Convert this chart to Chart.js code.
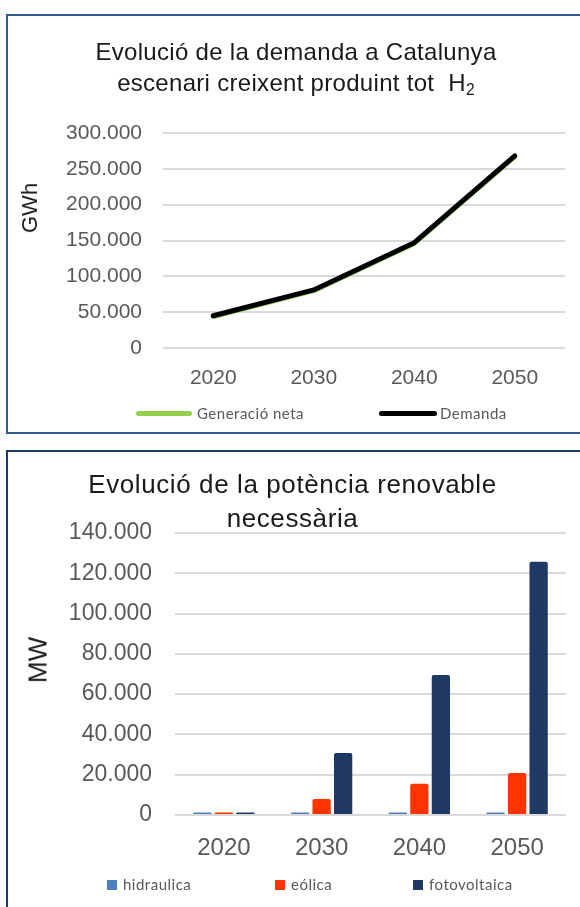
<!DOCTYPE html>
<html>
<head>
<meta charset="utf-8">
<script src="https://cdn.jsdelivr.net/npm/chart.js@4.4.1/dist/chart.umd.min.js"></script>
<style>
  body { margin: 0; background: #fff; width: 580px; height: 907px; position: relative; overflow: hidden; font-family: "Liberation Sans", Arial, sans-serif; }
  .caixa { position: absolute; left: 6px; width: 620px; box-sizing: border-box; }
  #caixa1 { top: 14px; height: 420px; border: 2px solid #2e5d8e; }
  #caixa2 { top: 450px; height: 500px; border: 2px solid #1f3a68; }
  canvas { position: absolute; left: 0; }
  .titol { position: absolute; left: 0; text-align: center; color: #1a1a1a; white-space: nowrap; }
  #titol1 { top: 36px; width: 592px; font-size: 24px; line-height: 31px; letter-spacing: 0.3px; }
  #titol1 sub { font-size: 65%; line-height: 0; vertical-align: -4px; }
  #titol2 { top: 467px; width: 585px; font-size: 26px; line-height: 34px; letter-spacing: 0.6px; }
  .eix { position: absolute; color: #1a1a1a; transform: translate(-50%, -50%) rotate(-90deg); white-space: nowrap; }
  .llegenda { position: absolute; font-family: Lato, "Open Sans", sans-serif; font-size: 15px; color: #595959; letter-spacing: 0.5px; line-height: 18px; white-space: nowrap; }
  .linia { position: absolute; height: 5px; border-radius: 3px; }
  .quadre { position: absolute; width: 10px; height: 10px; }
</style>
</head>
<body>
<div class="caixa" id="caixa1"></div>
<div class="caixa" id="caixa2"></div>

<canvas id="grafDemanda" width="580" height="440" style="top:0"></canvas>
<canvas id="grafPotencia" width="580" height="467" style="top:440px"></canvas>

<div class="titol" id="titol1">Evolució de la demanda a Catalunya<br>escenari creixent produint tot&nbsp; H<sub>2</sub></div>
<div class="titol" id="titol2">Evolució de la potència renovable<br>necessària</div>

<div class="eix" style="left:30px; top:208px; font-size:22px;">GWh</div>
<div class="eix" style="left:38px; top:660px; font-size:26px;">MW</div>

<div id="llegenda1"></div>
<div id="llegenda2"></div>

<script>
// ---------------- DADES ----------------
const anys = ["2020", "2030", "2040", "2050"];

const generacioNeta = [44000, 80000, 146000, 267000];
const demanda = [45000, 81000, 147000, 268000];

const hidraulica = [1300, 1300, 1300, 1300];
const eolica = [1300, 8000, 15500, 20800];
const fotovoltaica = [1200, 30800, 69500, 125700];

const ticksGWh = [0, 300000, 50000];   // min, max, pas
const ticksMW = [0, 140000, 20000];

// ---------------- AJUDES ----------------
function punts(v) {
  return String(v).replace(/\B(?=(\d{3})+(?!\d))/g, ".");
}

function fixarAmple(w) {
  return scale => { scale.width = w; };
}

function fixarAlt(h) {
  return scale => { scale.height = h; };
}

// ---------------- GRÀFIC 1 ----------------
new Chart(document.getElementById("grafDemanda"), {
  type: "line",
  data: {
    labels: anys,
    datasets: [
      { label: "Generació neta", data: generacioNeta, borderColor: "#92d050", borderWidth: 5, order: 2,
        pointRadius: 0, borderCapStyle: "round", borderJoinStyle: "round", tension: 0 },
      { label: "Demanda", data: demanda, borderColor: "#000000", borderWidth: 5, order: 1,
        pointRadius: 0, borderCapStyle: "round", borderJoinStyle: "round", tension: 0 }
    ]
  },
  options: {
    responsive: false,
    animation: false,
    layout: { padding: { top: 133, right: 15, left: 0, bottom: 42 } },
    plugins: { legend: { display: false }, tooltip: { enabled: false } },
    scales: {
      x: {
        offset: true,
        grid: { display: false },
        border: { display: false },
        ticks: { color: "#595959", font: { family: "Liberation Sans", size: 21 }, padding: 10 },
        afterFit: fixarAlt(50)
      },
      y: {
        min: ticksGWh[0], max: ticksGWh[1],
        grid: { color: "#d9d9d9", lineWidth: 2, drawTicks: false },
        border: { display: false },
        ticks: { stepSize: ticksGWh[2], color: "#595959", font: { family: "Liberation Sans", size: 21 },
                 padding: 21, callback: v => punts(v) },
        afterFit: fixarAmple(163)
      }
    }
  }
});

// ---------------- GRÀFIC 2 ----------------
new Chart(document.getElementById("grafPotencia"), {
  type: "bar",
  data: {
    labels: anys,
    datasets: [
      { label: "hidraulica", data: hidraulica, backgroundColor: "#4e81bd" },
      { label: "eólica", data: eolica, backgroundColor: "#ff3300" },
      { label: "fotovoltaica", data: fotovoltaica, backgroundColor: "#1f3864" }
    ]
  },
  options: {
    responsive: false,
    animation: false,
    layout: { padding: { top: 93, right: 14, left: 0, bottom: 42 } },
    datasets: { bar: { categoryPercentage: 0.66, barPercentage: 0.85, borderRadius: 2 } },
    plugins: { legend: { display: false }, tooltip: { enabled: false } },
    scales: {
      x: {
        grid: { display: false },
        border: { display: false },
        ticks: { color: "#595959", font: { family: "Liberation Sans", size: 24 }, padding: 11 },
        afterFit: fixarAlt(50)
      },
      y: {
        min: ticksMW[0], max: ticksMW[1],
        grid: { color: "#d9d9d9", lineWidth: 2, drawTicks: false },
        border: { display: false },
        ticks: { stepSize: ticksMW[2], color: "#595959", font: { family: "Liberation Sans", size: 23 },
                 padding: 23, callback: v => punts(v) },
        afterFit: fixarAmple(175)
      }
    }
  }
});

// ---------------- LLEGENDES ----------------
function llegendaLinia(id, items) {
  const cont = document.getElementById(id);
  items.forEach(it => {
    const l = document.createElement("div");
    l.className = "linia";
    l.style.cssText = `left:${it.x}px; top:${it.y - 2.5}px; width:${it.w}px; background:${it.color}`;
    const t = document.createElement("div");
    t.className = "llegenda";
    t.style.cssText = `left:${it.tx}px; top:${it.y - 9}px`;
    t.textContent = it.text;
    cont.appendChild(l);
    cont.appendChild(t);
  });
}

function llegendaQuadre(id, items) {
  const cont = document.getElementById(id);
  items.forEach(it => {
    const q = document.createElement("div");
    q.className = "quadre";
    q.style.cssText = `left:${it.x}px; top:${it.y - 5}px; background:${it.color}`;
    const t = document.createElement("div");
    t.className = "llegenda";
    t.style.cssText = `left:${it.x + 16}px; top:${it.y - 10}px`;
    t.textContent = it.text;
    cont.appendChild(q);
    cont.appendChild(t);
  });
}

llegendaLinia("llegenda1", [
  { text: "Generació neta", color: "#92d050", x: 136, w: 56, tx: 197, y: 413 },
  { text: "Demanda", color: "#000000", x: 379, w: 58, tx: 440, y: 413 }
]);

llegendaQuadre("llegenda2", [
  { text: "hidraulica", color: "#4e81bd", x: 107, y: 885 },
  { text: "eólica", color: "#ff3300", x: 275, y: 885 },
  { text: "fotovoltaica", color: "#1f3864", x: 413, y: 885 }
]);
</script>
</body>
</html>
